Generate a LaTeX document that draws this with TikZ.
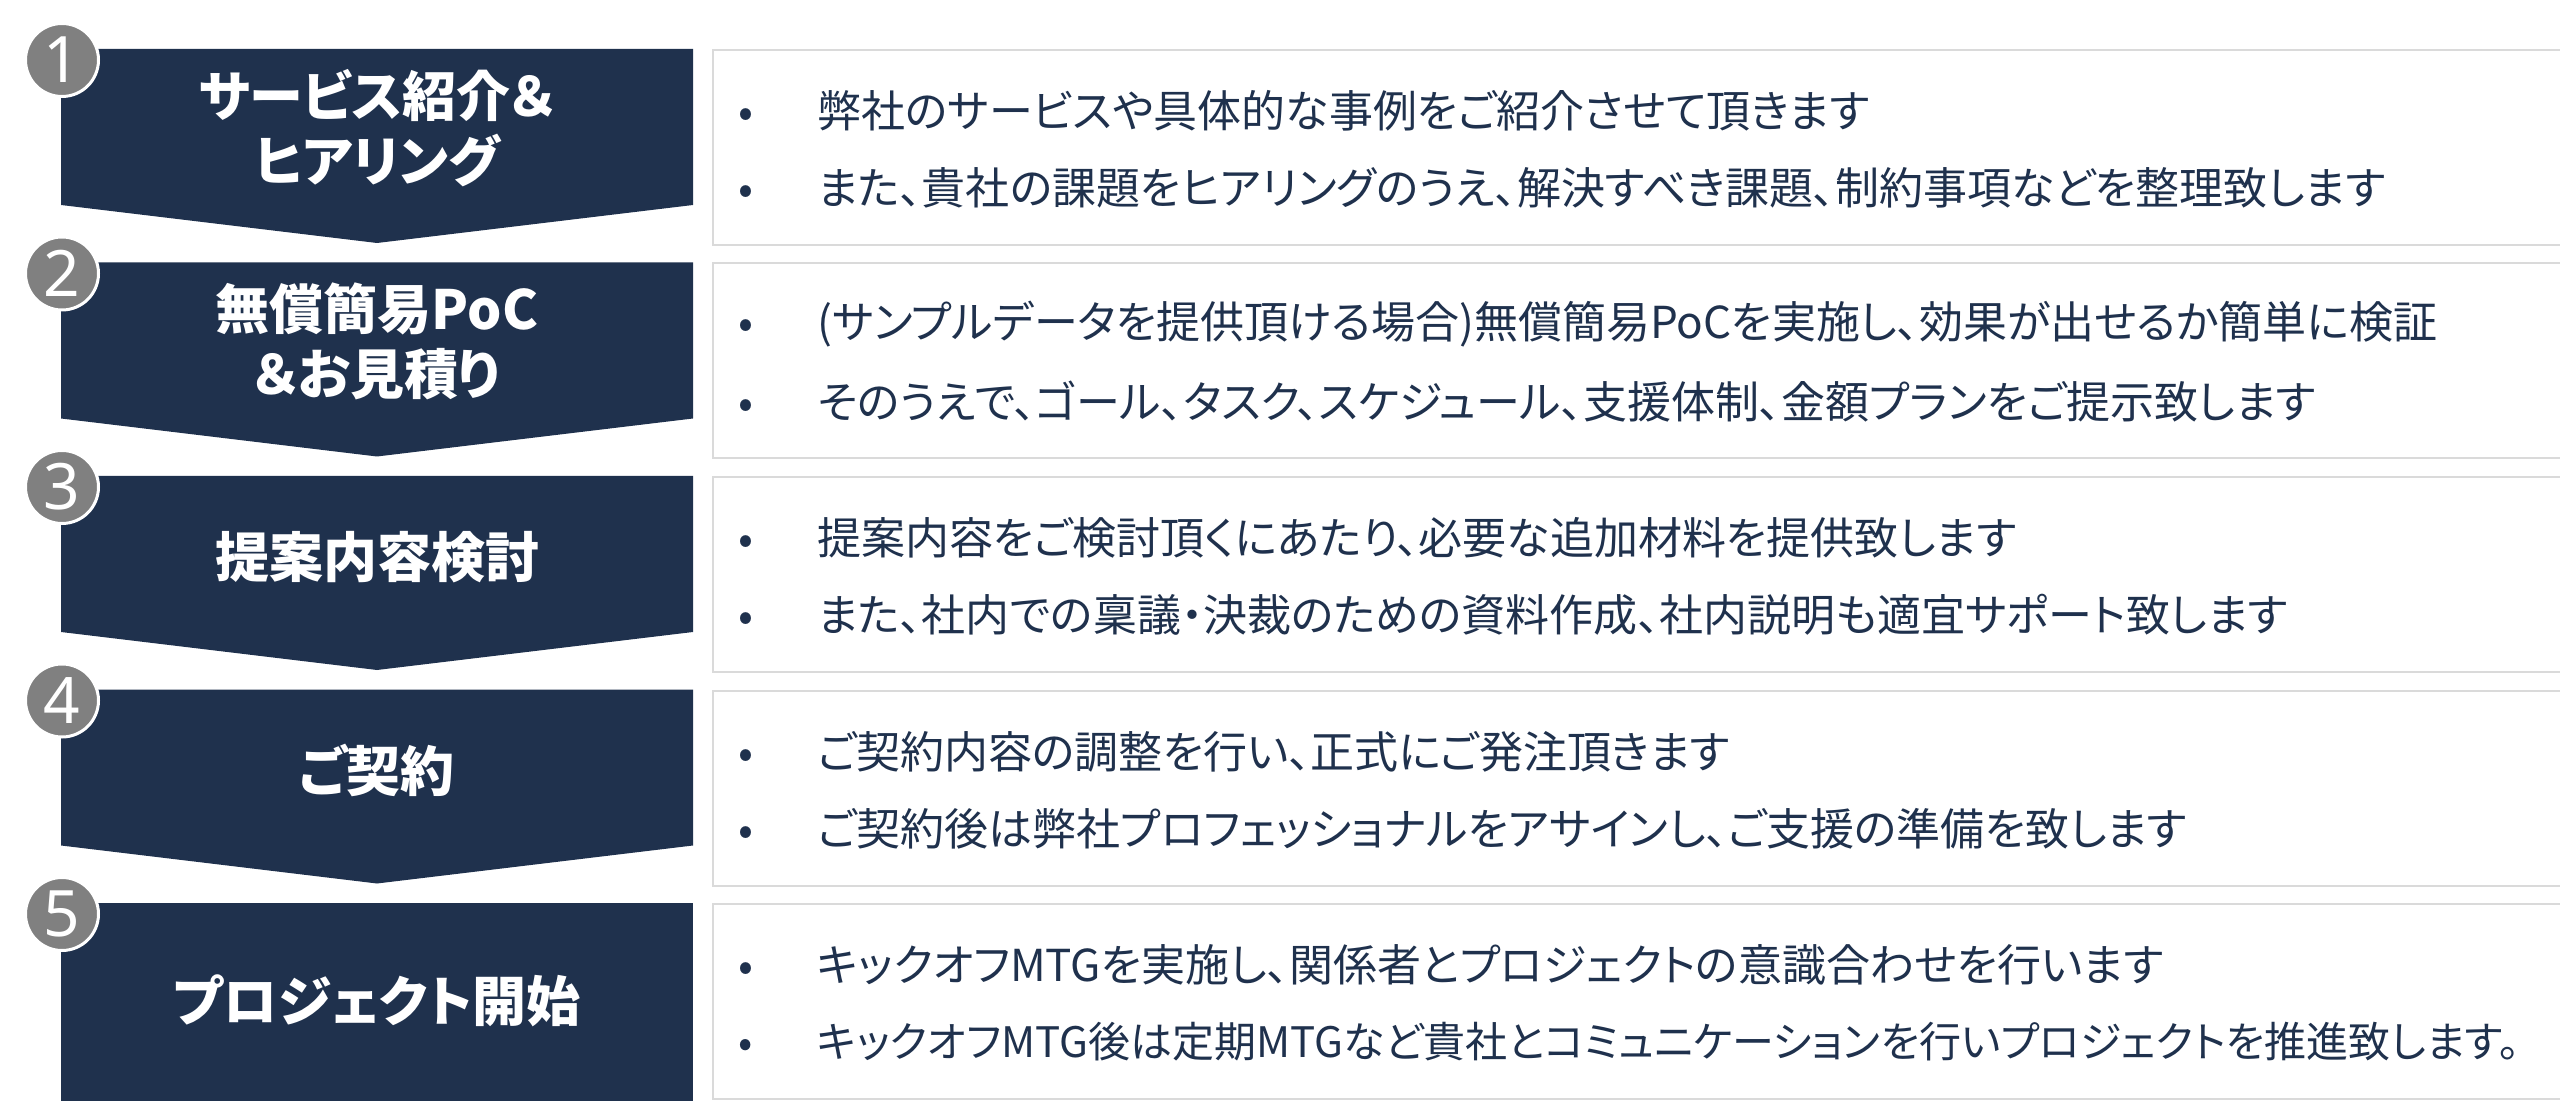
\documentclass[tikz,border=0pt]{standalone}
\usepackage{fontspec}
\setmainfont{Noto Sans CJK JP}[RawFeature=+palt]
\newfontfamily\numfont{Noto Sans}
\definecolor{navy}{HTML}{1F314D}
\definecolor{numgray}{HTML}{808080}
\definecolor{framegray}{HTML}{DADADA}
\newcommand{\bitem}[1]{\makebox[39.5pt][l]{•}#1}

\begin{document}
\begin{tikzpicture}[x=0.5pt,y=-0.5pt,
    stepbox/.style={fill=navy},
    steplabel/.style={text=white,font=\bfseries\fontsize{27}{32.5}\selectfont,align=center,inner sep=0pt},
    stepnum/.style={circle,fill=numgray,draw=white,line width=1.5pt,minimum size=36.5pt,inner sep=0pt,
        text=white,font=\numfont\fontsize{32}{32}\selectfont},
    detailbox/.style={draw=framegray,line width=1pt,fill=white,anchor=north west,
        minimum width=935pt,minimum height=97.5pt,inner sep=0pt},
    detail/.style={text=navy,font=\fontsize{22}{22}\selectfont,anchor=west,inner sep=0pt}]
  \useasboundingbox (0,0) rectangle (2560,1101);

  % Arrows on the left
  \fill[stepbox] (61,49) -- (693,49) -- (693,205) -- (377,243) -- (61,205) -- cycle;
  \fill[stepbox] (61,262.5) -- (693,262.5) -- (693,418.5) -- (377,456.5) -- (61,418.5) -- cycle;
  \fill[stepbox] (61,476) -- (693,476) -- (693,632) -- (377,670) -- (61,632) -- cycle;
  \fill[stepbox] (61,689.5) -- (693,689.5) -- (693,845.5) -- (377,883.5) -- (61,845.5) -- cycle;
  \fill[stepbox] (61,903) rectangle (693,1110);

  \node[steplabel] (step1) at (377,128) {サービス紹介＆\\ヒアリング};
  \node[steplabel] (step2) at (377,341.5) {無償簡易PoC\\＆お見積り};
  \node[steplabel] (step3) at (377,557) {提案内容検討};
  \node[steplabel] (step4) at (377,770.5) {ご契約};
  \node[steplabel] (step5) at (377,1001) {プロジェクト開始};

  \node[stepnum] (num1) at (62,60) {1};
  \node[stepnum] (num2) at (62,273.5) {2};
  \node[stepnum] (num3) at (62,487) {3};
  \node[stepnum] (num4) at (62,700.5) {4};
  \node[stepnum] (num5) at (62,914) {5};

  % Details on the right
  \node[detailbox] (box1) at (712,49) {};
  \node[detailbox] (box2) at (712,262.5) {};
  \node[detailbox] (box3) at (712,476) {};
  \node[detailbox] (box4) at (712,689.5) {};
  \node[detailbox] (box5) at (712,903) {};

  \node[detail] (d1a) at ([xshift=13pt,yshift=-31pt]box1.north west) {\bitem{弊社のサービスや具体的な事例をご紹介させて頂きます}};
  \node[detail] (d1b) at ([xshift=13pt,yshift=-69.5pt]box1.north west) {\bitem{また、貴社の課題をヒアリングのうえ、解決すべき課題、制約事項などを整理致します}};
  \node[detail] (d2a) at ([xshift=13pt,yshift=-31pt]box2.north west) {\bitem{(サンプルデータを提供頂ける場合)無償簡易PoCを実施し、効果が出せるか簡単に検証}};
  \node[detail] (d2b) at ([xshift=13pt,yshift=-69.5pt]box2.north west) {\bitem{そのうえで、ゴール、タスク、スケジュール、支援体制、金額プランをご提示致します}};
  \node[detail] (d3a) at ([xshift=13pt,yshift=-31pt]box3.north west) {\bitem{提案内容をご検討頂くにあたり、必要な追加材料を提供致します}};
  \node[detail] (d3b) at ([xshift=13pt,yshift=-69.5pt]box3.north west) {\bitem{また、社内での稟議・決裁のための資料作成、社内説明も適宜サポート致します}};
  \node[detail] (d4a) at ([xshift=13pt,yshift=-31pt]box4.north west) {\bitem{ご契約内容の調整を行い、正式にご発注頂きます}};
  \node[detail] (d4b) at ([xshift=13pt,yshift=-69.5pt]box4.north west) {\bitem{ご契約後は弊社プロフェッショナルをアサインし、ご支援の準備を致します}};
  \node[detail] (d5a) at ([xshift=13pt,yshift=-31pt]box5.north west) {\bitem{キックオフMTGを実施し、関係者とプロジェクトの意識合わせを行います}};
  \node[detail,font=\fontsize{21}{21}\selectfont] (d5b) at ([xshift=13pt,yshift=-69.5pt]box5.north west) {\bitem{キックオフMTG後は定期MTGなど貴社とコミュニケーションを行いプロジェクトを推進致します。}};
\end{tikzpicture}
\end{document}
